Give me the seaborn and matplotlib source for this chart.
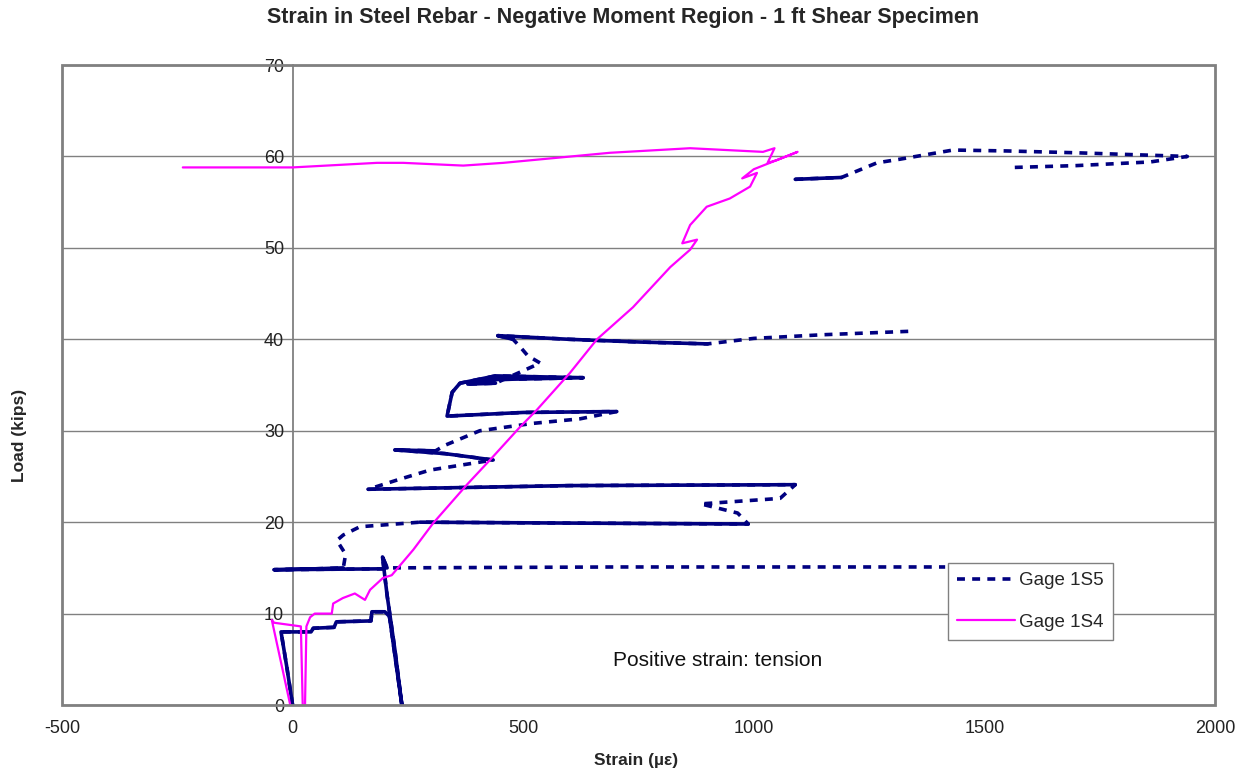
import numpy as np
import pandas as pd
import matplotlib
matplotlib.use("Agg")
import matplotlib.pyplot as plt
import seaborn as sns
from matplotlib.patches import Rectangle
from matplotlib.lines import Line2D

# ---------------- data ----------------
# Gage 1S5 (three separately recorded stretches)
s5_a_strain = [0, -12, -25, 40, 45, 90, 95, 170, 172, 200, 210, 237, 222, 205, 195, 205, 700, 1415]
s5_a_load = [0, 4.0, 8.0, 8.0, 8.4, 8.5, 9.1, 9.2, 10.2, 10.2, 9.7, 0.0, 6.0, 12.0, 16.2, 15.0, 15.1, 15.1]

s5_b_strain = [200, -40, 50, 110, 115, 96, 110, 146, 276, 600, 988, 965, 885, 1057, 1090, 600,
               164, 226, 298, 435, 330, 222, 310, 330, 406, 520, 623, 703, 500, 335, 346, 363,
               440, 630, 440, 380, 440, 537, 510, 493, 478, 445, 600, 754, 900, 1000, 1150, 1350]
s5_b_load = [14.9, 14.8, 14.9, 15.0, 16.5, 18.0, 18.6, 19.5, 20.0, 19.9, 19.8, 21.0, 22.0, 22.6, 24.1, 24.0,
             23.6, 24.6, 25.7, 26.8, 27.5, 27.9, 27.8, 28.4, 30.0, 30.8, 31.3, 32.1, 32.0, 31.6, 34.2, 35.2,
             36.0, 35.8, 35.6, 35.1, 35.2, 37.4, 38.2, 39.2, 40.0, 40.4, 40.0, 39.7, 39.5, 40.1, 40.5, 40.9]

s5_c_strain = [1090, 1190, 1267, 1317, 1432, 1550, 1700, 1940, 1860, 1700, 1565]
s5_c_load = [57.5, 57.7, 59.3, 59.7, 60.7, 60.6, 60.4, 60.0, 59.4, 59.0, 58.8]

# Gage 1S4
s4_strain = [-5, -45, -40, 18, 22, 27, 30, 38, 48, 85, 88, 109, 135, 157, 168, 196, 215, 262,
             305, 378, 428, 493, 530, 601, 660, 738, 819, 862, 877, 845, 862, 898, 948, 992,
             1007, 975, 1000, 1095, 1050, 1030, 1045, 1020, 862, 688, 457, 370, 240, 183, 0, -238]
s4_load = [0, 9.3, 9.0, 8.6, 0, 0, 8.6, 9.6, 10.0, 10.0, 11.1, 11.7, 12.2, 11.5, 12.6, 13.9, 14.2, 17.0,
           19.9, 24.1, 26.8, 30.4, 32.3, 36.3, 40.0, 43.5, 47.9, 49.8, 50.9, 50.5, 52.5, 54.5, 55.4, 56.7,
           58.2, 57.6, 58.6, 60.5, 59.6, 59.3, 60.9, 60.5, 60.9, 60.4, 59.3, 59.0, 59.3, 59.3, 58.8, 58.8]

x_ticks = [-500, 0, 500, 1000, 1500, 2000]
y_ticks = [0, 10, 20, 30, 40, 50, 60, 70]

title = "Strain in Steel Rebar - Negative Moment Region - 1 ft Shear Specimen"
xlabel = "Strain (µε)"
ylabel = "Load (kips)"
note = "Positive strain: tension"
labels = ["Gage 1S5", "Gage 1S4"]

# ---------------- plot ----------------
sns.set_style("white")
plt.rcParams["font.family"] = ["Liberation Sans", "DejaVu Sans"]

NAVY = "#000080"
MAG = "#FF00FF"
GRAY = "#808080"
LW5 = 2.6
DASH5 = (2.2, 2.0)

fig = plt.figure(figsize=(12.47, 7.74), dpi=100)
ax = fig.add_axes([0.0497, 0.0891, 0.9246, 0.8269])

# axis frame: y axis crosses at strain = 0 (set before tick styling)
for side in ["top", "right", "bottom"]:
    ax.spines[side].set_visible(False)
ax.spines["left"].set_position(("data", 0))
ax.spines["left"].set_color(GRAY)
ax.spines["left"].set_linewidth(1.3)
ax.spines["left"].set_zorder(1)

s5_parts = [(s5_a_strain, s5_a_load), (s5_b_strain, s5_b_load), (s5_c_strain, s5_c_load)]
df5 = pd.concat([pd.DataFrame({"strain": xs, "load": ys, "seg": i})
                 for i, (xs, ys) in enumerate(s5_parts)], ignore_index=True)
df4 = pd.DataFrame({"strain": s4_strain, "load": s4_load, "seg": 0})

# dashed trace of the whole 1S5 record
sns.lineplot(data=df5, x="strain", y="load", units="seg", estimator=None, sort=False,
             color=NAVY, linewidth=LW5, ax=ax, legend=False, zorder=3)
for ln in ax.get_lines():
    ln.set_dashes(DASH5)

# densely-sampled stretches of the 1S5 record read as continuous bands
dense = [(0, 0, 16), (1, 0, 4), (1, 8, 11), (1, 14, 17), (1, 19, 23), (1, 27, 37),
         (1, 40, 45), (2, 0, 2)]
pieces = []
for k, (p, a, b) in enumerate(dense):
    xs, ys = s5_parts[p]
    pieces.append(pd.DataFrame({"strain": xs[a:b], "load": ys[a:b], "seg": k}))
dfd = pd.concat(pieces, ignore_index=True)
sns.lineplot(data=dfd, x="strain", y="load", units="seg", estimator=None, sort=False,
             color=NAVY, linewidth=LW5, ax=ax, legend=False, zorder=3)

sns.lineplot(data=df4, x="strain", y="load", units="seg", estimator=None, sort=False,
             color=MAG, linewidth=1.6, ax=ax, legend=False, zorder=4)

ax.set_xlim(-500, 2000)
ax.set_ylim(0, 70)
ax.set_xticks(x_ticks)
ax.set_yticks(y_ticks)
ax.set_xticklabels([str(v) for v in x_ticks])
ax.set_yticklabels([str(v) for v in y_ticks])

ax.tick_params(axis="both", direction="out", length=5, width=1, color=GRAY,
               labelsize=13, labelcolor="#222222")
ax.tick_params(axis="y", pad=1)
ax.tick_params(axis="x", pad=6)

ax.yaxis.grid(True, color=GRAY, linewidth=1.0, zorder=0)
ax.xaxis.grid(False)
ax.set_axisbelow(True)

frame = Rectangle((0, 0), 1, 1, transform=ax.transAxes, fill=False,
                  edgecolor=GRAY, linewidth=2.0, clip_on=False, zorder=5)
ax.add_patch(frame)

ax.set_xlabel("")
ax.set_ylabel("")
fig.text(0.5, 0.977, title, ha="center", va="center", fontsize=15.5, fontweight="bold")
fig.text(0.51, 0.018, xlabel, ha="center", va="center", fontsize=12.5, fontweight="bold")
fig.text(0.016, 0.438, ylabel, ha="center", va="center", fontsize=12.5, fontweight="bold",
         rotation=90)

ax.text(695, 4.9, note, ha="left", va="center", fontsize=15, color="#111111")

handles = [Line2D([0], [0], color=NAVY, linewidth=LW5, dashes=DASH5),
           Line2D([0], [0], color=MAG, linewidth=1.6)]
leg = ax.legend(handles, labels, loc="lower left", bbox_to_anchor=(0.7684, 0.1016),
                fontsize=13.5, frameon=True, fancybox=False, framealpha=1,
                edgecolor=GRAY, handlelength=3.1, borderpad=0.5, labelspacing=1.3,
                handletextpad=0.2, borderaxespad=0)
leg.get_frame().set_linewidth(1.0)
leg.set_zorder(6)

fig.savefig("out.png", dpi=100)
